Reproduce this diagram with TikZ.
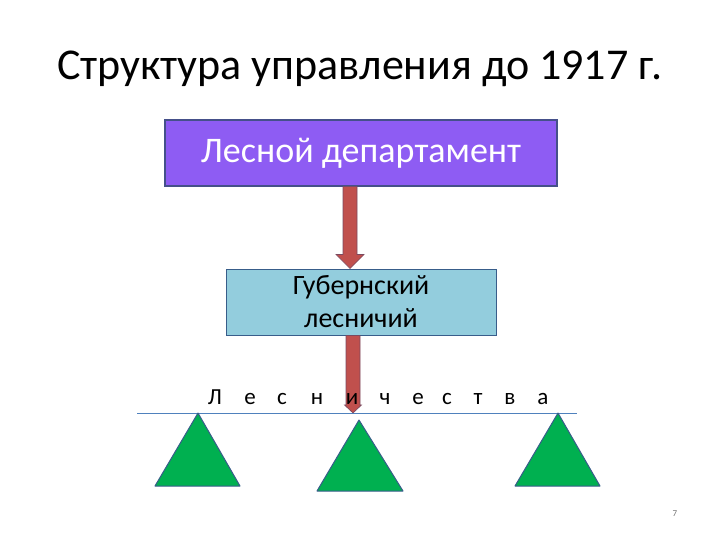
\documentclass[tikz,border=0pt]{standalone}
\usepackage{fontspec}
\setmainfont{Carlito}
\usetikzlibrary{calc}
\definecolor{purplefill}{HTML}{8E5CF3}
\definecolor{boxline}{HTML}{45508A}
\definecolor{bluefill}{HTML}{93CDDD}
\definecolor{arrowfill}{HTML}{C0504D}
\definecolor{arrowline}{HTML}{7A4A60}
\definecolor{trifill}{HTML}{00B050}
\definecolor{triline}{HTML}{385D8A}
\definecolor{rulecolor}{HTML}{4F81BD}
\tikzset{
  depbox/.style={draw=boxline, line width=1.2pt, fill=purplefill, text=white,
    minimum width=392pt, minimum height=66pt, inner sep=0pt,
    font=\fontsize{36}{40}\selectfont},
  gubbox/.style={draw=triline, line width=1pt, fill=bluefill, text=black,
    minimum width=270pt, minimum height=66pt, inner sep=0pt, align=center,
    font=\fontsize{28}{33}\selectfont},
  fatarrow/.style={fill=arrowfill, draw=arrowline, line width=0.6pt},
  forest/.style={fill=trifill, draw=triline, line width=1pt, line join=round},
  letter/.style={inner sep=0pt, font=\fontsize{23}{26}\selectfont},
  groundline/.style={draw=rulecolor, line width=0.8pt},
}
\begin{document}
\begin{tikzpicture}[x=1pt,y=-1pt]
\useasboundingbox (0,0) rectangle (720,540);
% title
\node[font=\fontsize{44}{50}\selectfont, inner sep=0pt] (title) at (360,69) {Структура управления до 1917 г.};
% boxes
\node[depbox] (dep) at (361,153) {Лесной департамент};
\node[gubbox] (gub) at (361,302) {Губернский\\лесничий};
% base line
\coordinate (lineL) at (137,413);
\coordinate (lineR) at (577,413);
\draw[groundline] (lineL) -- (lineR);
\coordinate (a2end) at (353,413);
% arrow 1
\path let \p1=($(dep.south)+(-11,0)$), \p2=($(gub.north)+(-11,0)$) in
  coordinate (a1s) at (\p1) coordinate (a1e) at (\p2);
\draw[fatarrow] let \p1=(a1s), \p2=(a1e) in
  (\x1-7pt,\y1) -- (\x1+7pt,\y1) -- (\x1+7pt,\y2+14pt) -- (\x1+14pt,\y2+14pt)
  -- (\x1,\y2) -- (\x1-14pt,\y2+14pt) -- (\x1-7pt,\y2+14pt) -- cycle;
% arrow 2
\draw[fatarrow] let \p1=($(gub.south)+(-8,0)$), \p2=(a2end) in
  (\x1-7pt,\y1) -- (\x1+7pt,\y1) -- (\x1+7pt,\y2+8pt) -- (\x1+8.5pt,\y2+8pt)
  -- (\x1,\y2) -- (\x1-8.5pt,\y2+8pt) -- (\x1-7pt,\y2+8pt) -- cycle;
% letters
\foreach \ch/\x [count=\i] in {Л/215,е/250,с/282,н/317,и/352,ч/385,е/418,с/447,т/478,в/510,а/543}
  \node[letter, anchor=base] (l\i) at (\x,404) {\ch};
% triangles
\draw[forest] (198,413) -- (240,486) -- (155,486) -- cycle;
\draw[forest] (359,420) -- (403,491) -- (317,491) -- cycle;
\draw[forest] (558,413) -- (600,486) -- (515,486) -- cycle;
% page number
\node[font=\fontsize{9}{10}\selectfont, text=black!55, inner sep=0pt] (pg) at (675,514) {7};
\end{tikzpicture}
\end{document}
